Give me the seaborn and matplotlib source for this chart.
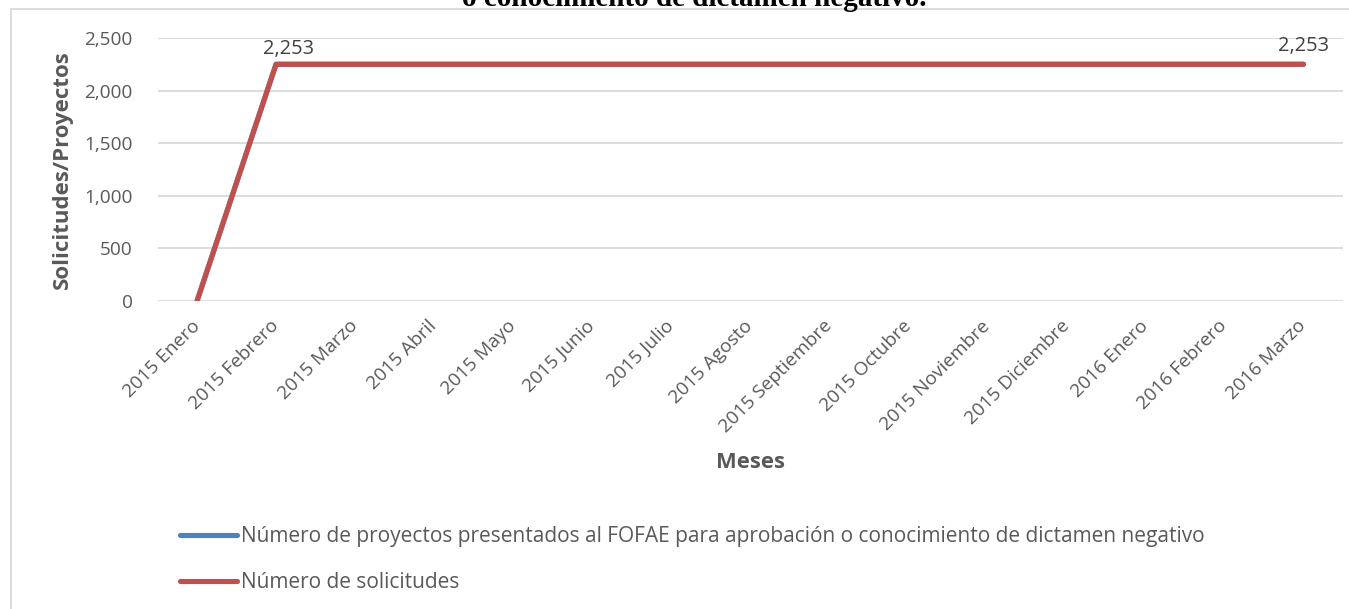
import matplotlib
matplotlib.use("Agg")
import matplotlib.pyplot as plt
import matplotlib.patches as mpatches
import seaborn as sns
import pandas as pd
from matplotlib.ticker import FuncFormatter

months = ["2015 Enero", "2015 Febrero", "2015 Marzo", "2015 Abril", "2015 Mayo",
          "2015 Junio", "2015 Julio", "2015 Agosto", "2015 Septiembre", "2015 Octubre",
          "2015 Noviembre", "2015 Diciembre", "2016 Enero", "2016 Febrero", "2016 Marzo"]
proyectos = [0, 2253, 2253, 2253, 2253, 2253, 2253, 2253, 2253, 2253, 2253, 2253, 2253, 2253, 2253]
solicitudes = [0, 2253, 2253, 2253, 2253, 2253, 2253, 2253, 2253, 2253, 2253, 2253, 2253, 2253, 2253]
series_names = ["Número de proyectos presentados al FOFAE para aprobación o conocimiento de dictamen negativo",
                "Número de solicitudes"]
series_colors = ["#4F81BD", "#C0504D"]
labelled_idx = [1, 14]
title_text = "Número de proyectos presentados al FOFAE para aprobación\no conocimiento de dictamen negativo."

sns.set_theme(style="white")
plt.rcParams['font.family'] = ['Open Sans', 'DejaVu Sans']

df = pd.DataFrame({
    "x": list(range(len(months))) * 2,
    "valor": proyectos + solicitudes,
    "serie": [series_names[0]] * len(months) + [series_names[1]] * len(months),
})

W, H = 1349, 609
L, R, T, B = 157.5, 1343, 38.3, 301
fig = plt.figure(figsize=(W / 100, H / 100), dpi=100)
ax = fig.add_axes([L / W, 1 - B / H, (R - L) / W, (B - T) / H])

grey = "#595959"
sns.lineplot(data=df, x="x", y="valor", hue="serie", hue_order=series_names,
             palette=series_colors, linewidth=3.7, ax=ax, legend=False,
             solid_capstyle="round", solid_joinstyle="round")

ax.set_xlim(-0.5, len(months) - 0.5)
ax.set_ylim(0, 2500)
ax.set_yticks([0, 500, 1000, 1500, 2000, 2500])
ax.yaxis.set_major_formatter(FuncFormatter(lambda v, p: f"{int(v):,}"))
ax.set_xticks(range(len(months)))
ax.set_xticklabels(months, rotation=45, ha="right", va="center", rotation_mode="anchor")
ax.tick_params(axis="both", length=0, labelsize=13.7, colors=grey)
ax.tick_params(axis="y", pad=18)
ax.tick_params(axis="x", pad=16)
ax.grid(axis="y", color="#D9D9D9", linewidth=1.3)
ax.set_axisbelow(True)
for s in ax.spines.values():
    s.set_visible(False)

label_offsets = [(9, 4), (0, 6)]
for i, off in zip(labelled_idx, label_offsets):
    ax.annotate(f"{solicitudes[i]:,}", (i, solicitudes[i]), xytext=off,
                textcoords="offset points", ha="center", va="bottom",
                fontsize=14.4, color="#404040")

ax.set_ylabel("Solicitudes/Proyectos", fontsize=16, fontweight="bold", color=grey)
ax.set_xlabel("Meses", fontsize=15.8, fontweight="bold", color=grey)
ax.yaxis.set_label_coords((62 - L) / (R - L), (B - 170) / (B - T))
ax.xaxis.set_label_coords((750 - L) / (R - L), -(463 - B) / (B - T))
ax.xaxis.label.set_va("center")
ax.yaxis.label.set_va("center")

# legend
handles = [plt.Line2D([], [], color=c, linewidth=3.7, solid_capstyle="round") for c in series_colors]
leg = fig.legend(handles, series_names, loc="upper left",
                 bbox_to_anchor=(172 / W, 1 - 518 / H), frameon=False,
                 fontsize=15, handlelength=2.7, handletextpad=0.2,
                 labelspacing=1.2, labelcolor=grey, borderaxespad=0)

# chart border
fig.patches.append(mpatches.Rectangle((11 / W, -0.1), 1.2, (1 - 9.3 / H) + 0.1,
                                      transform=fig.transFigure, fill=False,
                                      edgecolor="#D9D9D9", linewidth=1.3))

# title (partially cut off at the top edge, as in the source)
fig.text(694 / W, 1 - 6 / H, title_text,
         ha="center", va="baseline", fontsize=21, fontweight="bold",
         family=["Liberation Serif", "DejaVu Serif"], color="black",
         linespacing=1.0)

fig.savefig("out.png", dpi=100)
